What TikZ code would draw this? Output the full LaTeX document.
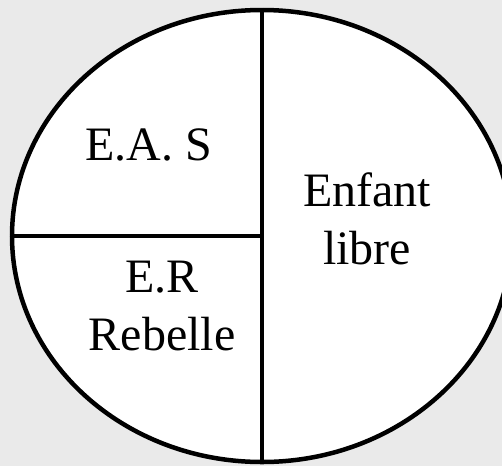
\documentclass[tikz,border=0pt]{standalone}
\usepackage{fontspec}
\setmainfont{Liberation Serif}
\usetikzlibrary{shapes.geometric}
\definecolor{PaperGray}{HTML}{EAEAEA}

\begin{document}
\begin{tikzpicture}[
    x=1pt, y=-1pt,
    oval/.style={draw=black, fill=white, ellipse, line width=4.5pt, inner sep=0pt, minimum width=500pt, minimum height=452pt},
    part/.style={align=center, font=\fontsize{48}{58}\selectfont, inner sep=0pt},
    split/.style={line width=4.5pt, color=black}
  ]
    \fill[PaperGray] (0,0) rectangle (502,466);
    \useasboundingbox (0,0) rectangle (502,466);
    \clip (0,0) rectangle (502,466);
    \node[oval] (oval) at (262,236) {};
    \draw[split] (oval.north) -- (oval.south);
    \draw[split] (oval.west) -- (oval.center);
    \node[part, anchor=base] (eas) at (149,160) {E.A. S};
    \node[part] (libre) at (367,219) {Enfant\\libre};
    \node[part] (rebelle) at (162,306) {E.R\\Rebelle};
  \end{tikzpicture}
\end{document}
